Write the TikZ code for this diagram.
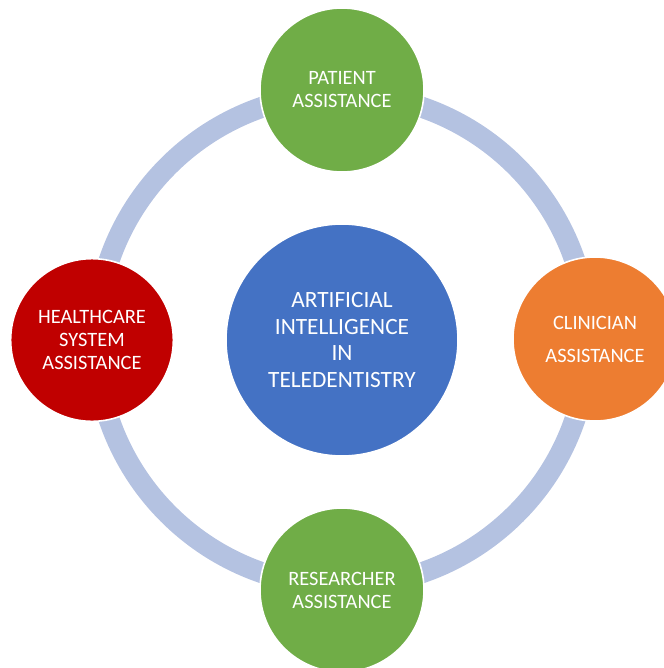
\documentclass[tikz,border=0pt]{standalone}
\usepackage{fontspec}
\setmainfont{Carlito}
\definecolor{ringc}{HTML}{B4C2E1}
\definecolor{gr}{HTML}{70AD47}
\definecolor{orc}{HTML}{ED7D31}
\definecolor{rdc}{HTML}{C00000}
\definecolor{blc}{HTML}{4472C4}
\begin{document}
\begin{tikzpicture}[x=0.75pt,y=-0.75pt,
  ball/.style={circle,draw=white,line width=1.2pt,text=white,align=center,inner sep=0pt,
    font=\fontsize{15.3}{17.25}\selectfont},
  ringline/.style={draw=ringc,line width=15.75pt}]
\useasboundingbox (0,0) rectangle (664,668);
\coordinate (c) at (342,340);
\draw[ringline] (c) circle[radius=246];
\node[ball,fill=blc,minimum size=174pt,font=\fontsize{17.5}{20}\selectfont] (center) at (c)
  {ARTIFICIAL\\INTELLIGENCE\\IN\\TELEDENTISTRY};
\node[ball,fill=gr,minimum size=123pt] (patient) at (342,90) {PATIENT\\ASSISTANCE};
\node[ball,fill=orc,minimum size=123pt,font=\fontsize{15.3}{24.75}\selectfont] (clin) at (595,339) {CLINICIAN\\ASSISTANCE};
\node[ball,fill=gr,minimum size=123pt] (res) at (342,590) {RESEARCHER\\ASSISTANCE};
\node[ball,fill=rdc,minimum size=122pt] (health) at (92,340) {HEALTHCARE\\SYSTEM\\ASSISTANCE};
\end{tikzpicture}
\end{document}
